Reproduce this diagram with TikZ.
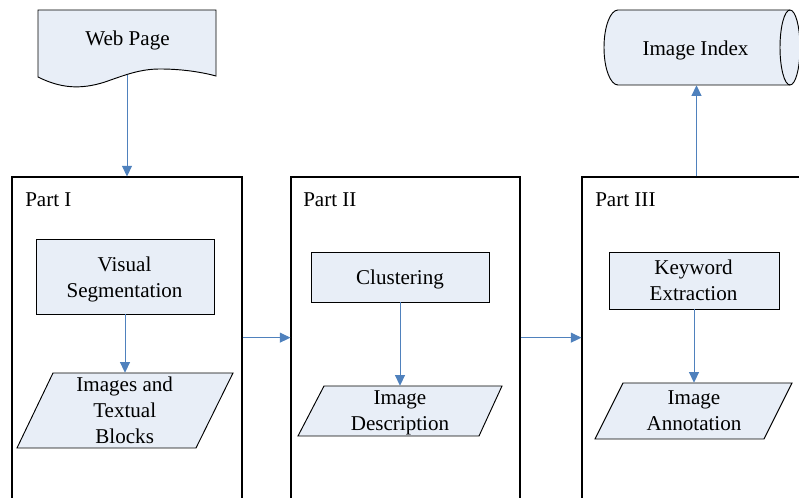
\documentclass[tikz,border=0pt]{standalone}
\usepackage{fontspec}
\setmainfont{Liberation Serif}
\usetikzlibrary{arrows.meta}
\definecolor{boxfill}{HTML}{E8EEF7}
\definecolor{arrblue}{HTML}{4F81BD}
\newcommand\pxu[1]{#1*0.75pt}
\newcommand\mlines[1]{\begin{tabular}[t]{@{}c@{}}#1\end{tabular}}
\begin{document}
\begin{tikzpicture}[x=0.75pt,y=-0.75pt,
  every node/.style={font=\fontsize{15.8}{19.3}\selectfont},
  part/.style={draw=black, line width=0.8pt, minimum height=\pxu{321.3}, inner sep=0pt},
  proc/.style={draw=black, line width=0.7pt, fill=boxfill, inner sep=0pt},
  io/.style={draw=black, line width=0.7pt, fill=boxfill},
  frame/.style={inner sep=0pt},
  txt/.style={anchor=base, inner sep=0pt},
  partlbl/.style={anchor=base west, inner sep=0pt},
  arr/.style={draw=arrblue, line width=0.75pt, -{Triangle[length=8pt,width=7.5pt]}},
]
\useasboundingbox (0,0) rectangle (799,498);

% big part boxes
\node[part, minimum width=\pxu{230}] (p1) at (127,337.65) {};
\node[part, minimum width=\pxu{229}] (p2) at (405.5,337.65) {};
\node[part, minimum width=\pxu{229}] (p3) at (696.5,337.65) {};

\node[partlbl] (l1) at (25,207) {Part I};
\node[partlbl] (l2) at (303,207) {Part II};
\node[partlbl] (l3) at (595,207) {Part III};

% process boxes
\node[proc, minimum width=\pxu{178}, minimum height=\pxu{75}] (vs) at (125,276.5) {};
\node[txt] (vst) at (124.5,271.7) {\mlines{Visual\\Segmentation}};
\node[proc, minimum width=\pxu{178}, minimum height=\pxu{50}] (cl) at (400,277) {};
\node[txt] (clt) at (400,284.3) {Clustering};
\node[proc, minimum width=\pxu{170}, minimum height=\pxu{57}] (ke) at (694,280.5) {};
\node[txt] (ket) at (693.5,275) {\mlines{Keyword\\Extraction}};

% data (parallelograms)
\path[io] (53,373) -- (233,373) -- (196,448) -- (17,448) -- cycle;
\node[frame, minimum width=\pxu{180}, minimum height=\pxu{75}] (itb) at (125,410.5) {};
\node[txt] (itbt) at (124.7,391.7) {\mlines{Images and\\Textual\\Blocks}};

\path[io] (324,386) -- (502,386) -- (479,436) -- (298,436) -- cycle;
\node[frame, minimum width=\pxu{180}, minimum height=\pxu{50}] (idesc) at (400,411) {};
\node[txt] (idesct) at (400,405) {\mlines{Image\\Description}};

\path[io] (623,383) -- (792,383) -- (764,439) -- (595,439) -- cycle;
\node[frame, minimum width=\pxu{170}, minimum height=\pxu{56}] (iann) at (694,411) {};
\node[txt] (iannt) at (694,405) {\mlines{Image\\Annotation}};

% web page document shape
\path[io] (38,10) -- (216,10) -- (216,76)
  .. controls (205,73) and (185,69) .. (160,69)
  .. controls (140,69) and (125,75) .. (105,82)
  .. controls (80,90) and (60,88) .. (38,77) -- cycle;
\node[txt] (wp) at (127.5,45.7) {Web Page};
\coordinate (wpb) at (127,75);

% image index cylinder
\path[io] (618,10) -- (790,10)
  arc[start angle=-90, end angle=90, x radius=10, y radius=37.5]
  -- (618,85)
  arc[start angle=90, end angle=270, x radius=14, y radius=37.5] -- cycle;
\draw[line width=0.7pt] (790,10) arc[start angle=-90, end angle=-270, x radius=10, y radius=37.5];
\node[frame, minimum width=\pxu{170}, minimum height=\pxu{75}] (idx) at (696.5,47.5) {};
\node[txt] (idxt) at (695.5,56) {Image Index};

% connectors
\draw[arr] (wpb) -- (p1.north);
\draw[arr] (vs.south) -- (itb.north);
\draw[arr] (p1.east) -- (p2.west);
\draw[arr] (cl.south) -- (idesc.north);
\draw[arr] (p2.east) -- (p3.west);
\draw[arr] (ke.south) -- (iann.north);
\draw[arr] (p3.north) -- (idx.south);
\end{tikzpicture}
\end{document}
